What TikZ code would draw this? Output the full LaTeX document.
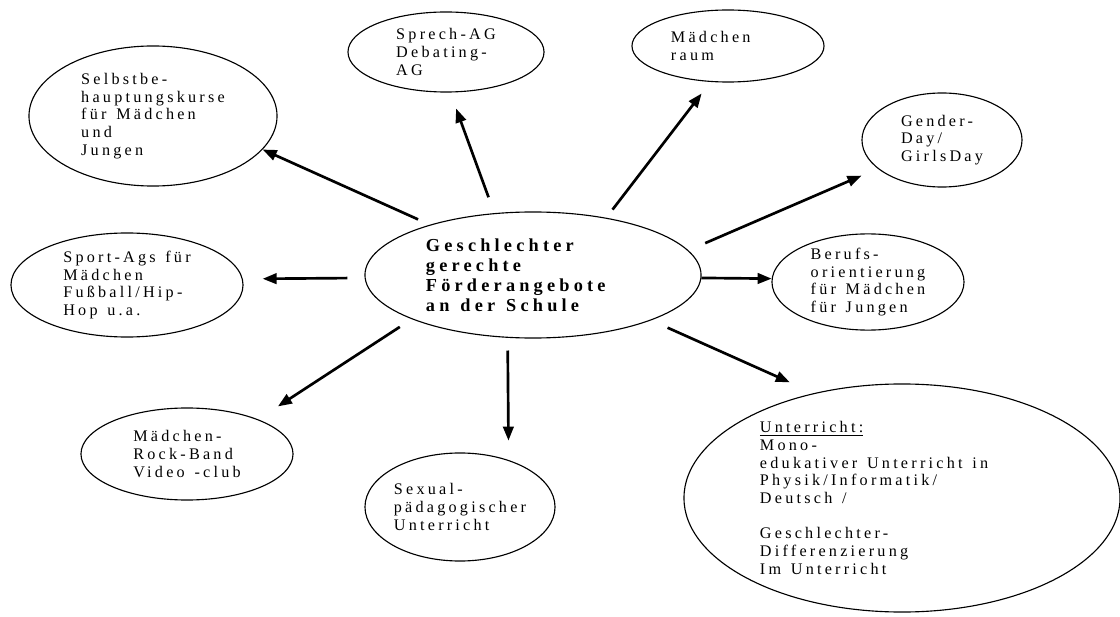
\documentclass[tikz,border=0pt]{standalone}
\usepackage{fontspec}
\setmainfont{Liberation Serif}
\newfontfamily\wordfont{Liberation Serif}[LetterSpace=20, WordSpace=2]
\newfontfamily\hubfont{Liberation Serif}[LetterSpace=23, WordSpace=2]
\NewDocumentCommand\bubblefont{}{\wordfont\fontsize{11.5pt}{12.6pt}\selectfont}
\NewDocumentCommand\hubtextfont{}{\hubfont\bfseries\fontsize{13pt}{14.2pt}\selectfont}
\usetikzlibrary{shapes.geometric, arrows.meta}

\begin{document}
\begin{tikzpicture}[x=0.025cm, y=-0.025cm,
  bubble/.style={draw, ellipse, line width=0.8pt, inner sep=0pt, align=left, font=\bubblefont,
    execute at begin node={\spaceskip=0.6em\relax}},
  arr/.style={line width=1.9pt, -{Triangle[length=10pt, width=7.5pt]}}]
  \useasboundingbox (0,0) rectangle (1120,617);

  % Centre
  \node[bubble, minimum width=8.4cm, minimum height=3.15cm, text width=5.35cm, font=\hubtextfont] (hub) at (533,275) {
    Geschlechter\\gerechte\\Förderangebote\\an der Schule
  };

  % Offers around it
  \node[bubble, minimum width=6.2cm, minimum height=3.5cm] (selbst) at (153,116) {
    Selbstbe-\\hauptungskurse\\für Mädchen\\und\\Jungen
  };
  \node[bubble, minimum width=4.9cm, minimum height=2cm] (sprech) at (446,52) {
    Sprech-AG\\Debating-\\AG
  };
  \node[bubble, minimum width=4.8cm, minimum height=1.8cm, text width=2.85cm] (raum) at (728,46) {
    Mädchen\\raum
  };
  \node[bubble, minimum width=4cm, minimum height=2.35cm] (gender) at (942,140) {
    Gender-\\Day/\\GirlsDay
  };
  \node[bubble, minimum width=5.8cm, minimum height=2.6cm] (sport) at (127,285) {
    Sport-Ags für\\Mädchen\\Fußball/Hip-\\Hop u.a.
  };
  \node[bubble, minimum width=4.8cm, minimum height=2.4cm] (berufs) at (868,282) {
    Berufs-\\orientierung\\für Mädchen\\für Jungen
  };
  \node[bubble, minimum width=5.3cm, minimum height=2.3cm] (rock) at (187,454) {
    Mädchen-\\Rock-Band\\Video -club
  };
  \node[bubble, minimum width=4.75cm, minimum height=2.7cm] (sexual) at (460,507) {
    Sexual-\\pädagogischer\\Unterricht
  };
  \node[bubble, minimum width=10.9cm, minimum height=5.7cm, text width=7.1cm] (unterricht) at (902,498) {
    \underline{Unterricht:}\\Mono-\\edukativer Unterricht in\\Physik/Informatik/\\Deutsch /\\~\\
    Geschlechter-\\Differenzierung\\Im Unterricht
  };

  % Arrows
  \draw[arr, shorten <=9.2pt] (hub.154) -- (selbst.-17);
  \draw[arr, shorten <=12pt, shorten >=12.1pt] (hub.122) -- (sprech.-84);
  \draw[arr, shorten <=7.3pt, shorten >=10.3pt] (hub.38) -- (raum.-116);
  \draw[arr, shorten <=13pt, shorten >=12.5pt] (hub.9.6) -- (gender.204);
  \draw[arr, shorten <=12.3pt, shorten >=14.1pt] (hub.181.4) -- (sport.3);
  \draw[arr] (hub.-1.7) -- (berufs.178.8);
  \draw[arr, shorten <=10.1pt, shorten >=16.8pt] (hub.200.5) -- (rock.26.3);
  \draw[arr, shorten <=9pt, shorten >=13.8pt] (hub.248.1) -- (sexual.44.2);
  \draw[arr, shorten <=12.8pt, shorten >=18.8pt] (hub.-21.6) -- (unterricht.130.1);
\end{tikzpicture}
\end{document}
